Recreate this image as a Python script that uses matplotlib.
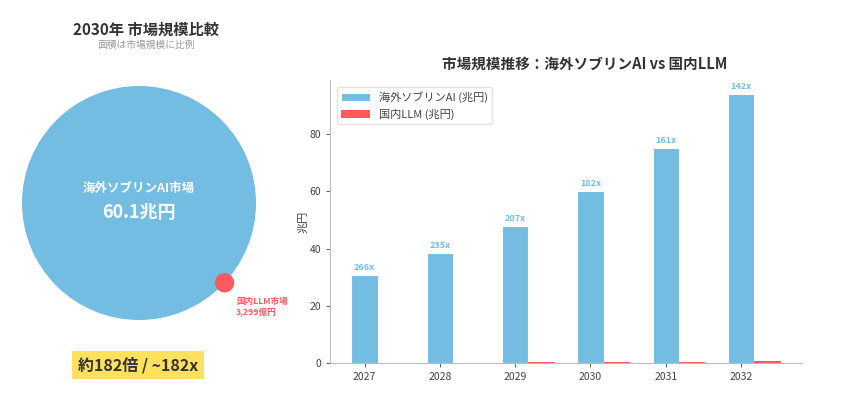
import matplotlib.pyplot as plt
import matplotlib.patches as mpatches
import numpy as np

plt.rcParams['font.family'] = ['Noto Sans CJK JP', 'DejaVu Sans']

# data
years = ['2027', '2028', '2029', '2030', '2031', '2032']
sovereign_ai = [30.7, 38.5, 48.1, 60.1, 75.2, 94.0]      # 兆円
domestic_llm = [0.1154, 0.1638, 0.2324, 0.3299, 0.4671, 0.662]  # 兆円

market_2030_ai = 60.1      # 兆円
market_2030_llm = 3299     # 億円

blue = '#74BDE2'
red = '#FF5A5F'
dark = '#333333'

fig = plt.figure(figsize=(8.66, 4.08), dpi=100)

# ---- left: circle comparison (pixel-like coords) ----
ax0 = fig.add_axes([0, 0, 300 / 866, 1])
ax0.set_xlim(0, 300)
ax0.set_ylim(408, 0)
ax0.axis('off')

cx, cy, r_big = 139, 203, 117
ratio = market_2030_ai / (market_2030_llm / 10000)
r_small = r_big * np.sqrt(1 / ratio)
ang = np.deg2rad(43)
sx, sy = cx + r_big * np.cos(ang), cy + r_big * np.sin(ang)

ax0.add_patch(mpatches.Circle((cx, cy), r_big, color=blue, ec='none'))
ax0.add_patch(mpatches.Circle((sx, sy), r_small + 1, color=red, ec='none', zorder=3))

ax0.text(146, 30, '2030年 市場規模比較', ha='center', va='center',
         fontsize=11, fontweight='bold', color=dark)
ax0.text(146, 45, '面積は市場規模に比例', ha='center', va='center',
         fontsize=7, color='#999999')
ax0.text(cx, 188, '海外ソブリンAI市場', ha='center', va='center',
         fontsize=9, fontweight='bold', color='white')
ax0.text(cx, 213, f'{market_2030_ai}兆円', ha='center', va='center',
         fontsize=13, fontweight='bold', color='white')
ax0.text(236, 297, f'国内LLM市場\n{market_2030_llm:,}億円', ha='left', va='top',
         fontsize=6.2, fontweight='bold', color=red, linespacing=1.3)

ax0.add_patch(mpatches.Rectangle((72, 351), 132, 28, color='#FFE15E', ec='none'))
ax0.text(138, 365, f'約{ratio:.0f}倍 / ~{ratio:.0f}x', ha='center', va='center',
         fontsize=11.5, fontweight='bold', color=dark)

# ---- right: bar chart ----
ax = fig.add_axes([330 / 866, 45 / 408, 472 / 866, 283 / 408])
x = np.arange(len(years))
w = 0.35
ax.bar(x, sovereign_ai, w, color=blue, edgecolor='white', linewidth=0.8,
       label='海外ソブリンAI (兆円)')
ax.bar(x + w, domestic_llm, w, color=red, edgecolor='none',
       label='国内LLM (兆円)')

for xi, a, d in zip(x, sovereign_ai, domestic_llm):
    ax.text(xi, a + 1, f'{a / d:.0f}x', ha='center', va='bottom',
            fontsize=6.5, fontweight='bold', color=blue)

ax.set_xticks(x)
ax.set_xticklabels(years)
ax.set_ylim(0, 99)
ax.set_yticks([0, 20, 40, 60, 80])
ax.tick_params(labelsize=7.5, colors='#444444', length=3, width=0.6)
for s in ['top', 'right']:
    ax.spines[s].set_visible(False)
for s in ['left', 'bottom']:
    ax.spines[s].set_color('#BBBBBB')
    ax.spines[s].set_linewidth(0.8)

ax.set_ylabel('兆円', fontsize=8, color='#444444', labelpad=1)
ax.set_title('市場規模推移：海外ソブリンAI vs 国内LLM', fontsize=10.5,
             fontweight='bold', color=dark, x=0.54, pad=8)
ax.legend(loc='upper left', fontsize=8, frameon=True, edgecolor='#DDDDDD',
          handlelength=2.6, borderaxespad=0.6, labelcolor='#444444')

plt.savefig('out.png', dpi=100)
